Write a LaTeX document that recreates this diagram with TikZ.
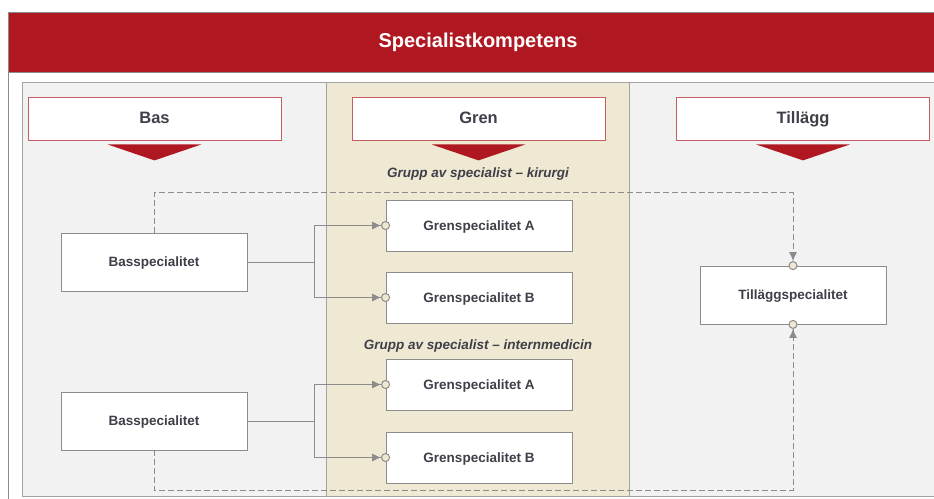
\documentclass[tikz,border=0pt]{standalone}
\usepackage{fontspec}
\setmainfont{Liberation Sans}
\usetikzlibrary{arrows.meta}
\definecolor{hdred}{HTML}{AF1820}
\definecolor{panelgray}{HTML}{F2F2F2}
\definecolor{grenbeige}{HTML}{EFE8D2}
\definecolor{txtgray}{HTML}{3F3F4A}
\definecolor{linegray}{HTML}{8C8C8C}

\begin{document}
\begin{tikzpicture}[x=1pt,y=-1pt,line width=.8pt,
  colhead/.style={draw=hdred!70,fill=white,minimum width=253pt,minimum height=43pt,inner sep=0pt,text height=.95em,text depth=0pt,text=txtgray,font=\fontsize{16.5}{19}\selectfont\bfseries},
  specbox/.style={draw=linegray,fill=white,minimum width=186pt,inner sep=0pt,text height=.95em,text depth=0pt,text=txtgray,font=\fontsize{13.5}{16}\selectfont\bfseries},
  grupplabel/.style={inner sep=1pt,text height=.9em,text depth=0pt,text=txtgray,font=\fontsize{13.5}{16}\selectfont\bfseries\itshape},
  conn/.style={draw=linegray,line width=1pt,shorten >=-4.5pt,-{Latex[length=9pt,width=8pt]Circle[length=9pt,fill=grenbeige]}},
  dconn/.style={conn,dash pattern=on 6pt off 3pt}]
\path[use as bounding box] (0,0) rectangle (934,498);
% frame and header
\draw[linegray,fill=white] (8,12) rectangle (944,504);
\draw[linegray,fill=hdred] (8,12) rectangle (944,72);
\node[text=white,text height=.9em,text depth=0pt,font=\fontsize{20}{24}\selectfont\bfseries] (title) at (478,43) {Specialistkompetens};
\draw[linegray!80,fill=panelgray] (22,82) rectangle (944,496);
\draw[linegray!80,fill=grenbeige] (326,82) rectangle (629,496);
% column heads
\node[colhead] (bas) at (154.5,118.5) {Bas};
\node[colhead] (gren) at (478.5,118.5) {Gren};
\node[colhead] (tillagg) at (803,118.5) {Tillägg};
\foreach \h in {bas,gren,tillagg}
  \fill[hdred] ([xshift=-47pt,yshift=-4pt]\h.south) -- ([xshift=47pt,yshift=-4pt]\h.south) -- ([yshift=-20pt]\h.south) -- cycle;
\node[grupplabel] (kirurgi) at (478,173) {Grupp av specialist – kirurgi};
\node[grupplabel] (internmed) at (478,345) {Grupp av specialist – internmedicin};
% boxes
\node[specbox,minimum height=58pt] (bas1) at (154,262) {Basspecialitet};
\node[specbox,minimum height=58pt] (bas2) at (154,421) {Basspecialitet};
\node[specbox,minimum height=51pt] (grenA1) at (479,225.5) {Grenspecialitet A};
\node[specbox,minimum height=51pt] (grenB1) at (479,297.5) {Grenspecialitet B};
\node[specbox,minimum height=51pt] (grenA2) at (479,384.5) {Grenspecialitet A};
\node[specbox,minimum height=51pt] (grenB2) at (479,457.5) {Grenspecialitet B};
\node[specbox,minimum height=58pt] (till) at (793,295) {Tilläggspecialitet};
% connectors
\coordinate (j1) at (314,262);
\coordinate (j2) at (314,421);
\draw[draw=linegray,line width=1pt] (bas1.east) -- (j1);
\draw[draw=linegray,line width=1pt] (bas2.east) -- (j2);
\draw[conn] (j1) |- (grenA1.west);
\draw[conn] (j1) |- (grenB1.west);
\draw[conn] (j2) |- (grenA2.west);
\draw[conn] (j2) |- (grenB2.west);
\draw[dconn] (bas1.north) -- ++(0,-40) -| (till.north);
\draw[dconn] (bas2.south) -- ++(0,40) -| (till.south);
\end{tikzpicture}
\end{document}
